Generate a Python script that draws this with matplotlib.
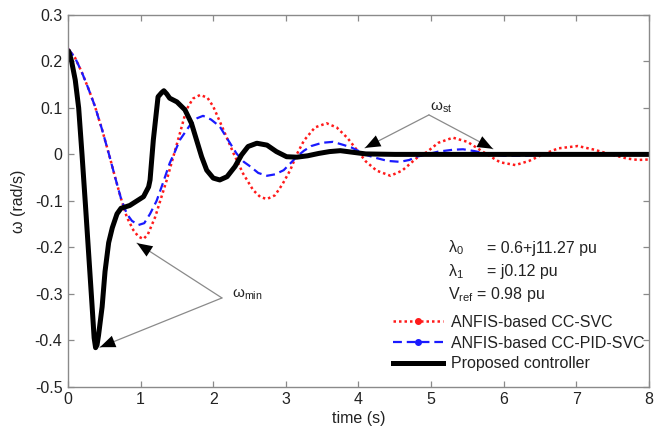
# omega response plot, three controllers

import matplotlib
matplotlib.use("Agg")
import matplotlib.pyplot as plt
from matplotlib.lines import Line2D

plt.rcParams['font.family'] = ['Liberation Sans', 'DejaVu Sans']
plt.rcParams['mathtext.fontset'] = 'custom'
plt.rcParams['mathtext.rm'] = 'Liberation Sans'
plt.rcParams['mathtext.it'] = 'Liberation Sans'
plt.rcParams['mathtext.default'] = 'regular'

# DATA

t_svc = [0.0, 0.01, 0.1, 0.19, 0.28, 0.37, 0.47, 0.57, 0.65, 0.73, 0.81, 0.9,
         0.97, 1.04, 1.1, 1.2, 1.3, 1.36, 1.45, 1.54, 1.63, 1.72, 1.82, 1.92,
         2.0, 2.14, 2.28, 2.41, 2.55, 2.65, 2.74, 2.85, 2.95, 3.06, 3.15,
         3.25, 3.4, 3.56, 3.7, 3.85, 3.98, 4.1, 4.25, 4.44, 4.6, 4.8, 4.94,
         5.1, 5.3, 5.5, 5.65, 5.77, 5.95, 6.16, 6.35, 6.54, 6.75, 7.02, 7.25,
         7.47, 7.7, 7.85, 8.0]
w_svc = [0.224, 0.226, 0.207, 0.177, 0.142, 0.104, 0.053, -0.003, -0.05,
         -0.095, -0.135, -0.163, -0.177, -0.182, -0.172, -0.135, -0.085,
         -0.055, -0.005, 0.045, 0.096, 0.12, 0.128, 0.122, 0.103, 0.053, 0.002,
         -0.041, -0.077, -0.092, -0.096, -0.088, -0.065, -0.034, 0.0, 0.03,
         0.058, 0.067, 0.058, 0.035, 0.009, -0.015, -0.035, -0.046, -0.035,
         -0.008, 0.005, 0.025, 0.036, 0.027, 0.012, 0.0, -0.017, -0.023,
         -0.014, 0.0, 0.013, 0.018, 0.01, 0.0, -0.009, -0.012, -0.011]

t_pid = [0.0, 0.01, 0.1, 0.19, 0.28, 0.37, 0.47, 0.57, 0.65, 0.73, 0.81, 0.88,
         0.97, 1.05, 1.13, 1.22, 1.3, 1.4, 1.47, 1.54, 1.68, 1.78, 1.86, 1.97,
         2.09, 2.2, 2.32, 2.42, 2.51, 2.62, 2.74, 2.85, 2.97, 3.07, 3.15,
         3.25, 3.35, 3.5, 3.65, 3.8, 3.9, 4.02, 4.12, 4.25, 4.4, 4.57, 4.7,
         4.8, 4.94, 5.1, 5.3, 5.44, 5.6, 5.8, 6.0, 6.3, 6.6, 7.0, 8.0]
w_pid = [0.224, 0.226, 0.207, 0.177, 0.142, 0.104, 0.053, -0.003, -0.05,
         -0.095, -0.128, -0.143, -0.152, -0.148, -0.128, -0.1, -0.065, -0.019,
         0.005, 0.031, 0.063, 0.078, 0.083, 0.075, 0.06, 0.032, 0.002, -0.016,
         -0.026, -0.04, -0.046, -0.043, -0.034, -0.018, -0.005, 0.008, 0.018,
         0.025, 0.027, 0.02, 0.015, 0.006, -0.002, -0.008, -0.014, -0.016,
         -0.012, -0.005, 0.0, 0.006, 0.01, 0.011, 0.007, 0.0, -0.003, -0.003,
         0.0, 0.001, 0.0]

t_prop = [0.0, 0.01, 0.05, 0.1, 0.147, 0.193, 0.24, 0.285, 0.33, 0.36, 0.38,
          0.4, 0.42, 0.47, 0.51, 0.56, 0.61, 0.675, 0.73, 0.85, 0.95, 1.04,
          1.11, 1.13, 1.175, 1.24, 1.29, 1.32, 1.36, 1.4, 1.5, 1.61, 1.7, 1.77,
          1.84, 1.91, 2.0, 2.09, 2.19, 2.3, 2.39, 2.48, 2.6, 2.74, 2.87, 3.01,
          3.15, 3.3, 3.45, 3.6, 3.75, 3.9, 4.1, 4.5, 5.0, 6.0, 7.0, 8.0]
w_prop = [0.215, 0.222, 0.2, 0.16, 0.1, 0.0, -0.108, -0.215, -0.322,
          -0.395, -0.416, -0.41, -0.39, -0.328, -0.252, -0.19, -0.158, -0.128,
          -0.116, -0.11, -0.1, -0.091, -0.07, -0.055, 0.031, 0.124, 0.133,
          0.137, 0.13, 0.121, 0.113, 0.096, 0.067, 0.031, -0.005, -0.034,
          -0.051, -0.055, -0.048, -0.026, -0.001, 0.017, 0.024, 0.02, 0.006,
          -0.005, -0.006, -0.003, 0.002, 0.006, 0.008, 0.005, 0.001, 0.0, 0.0,
          0.0, 0.0, 0.0]

labels = ['ANFIS-based CC-SVC', 'ANFIS-based CC-PID-SVC', 'Proposed controller']
x_ticks = [0, 1, 2, 3, 4, 5, 6, 7, 8]
y_ticks = [-0.5, -0.4, -0.3, -0.2, -0.1, 0, 0.1, 0.2, 0.3]

# FIGURE

fig = plt.figure(figsize=(6.64, 4.30), dpi=100)
ax = fig.add_axes([0.1024, 0.1007, 0.875, 0.8644])

ax.plot(t_svc, w_svc, color='#ff1a1a', ls=(0, (1, 1.2)), lw=1.8)
ax.plot(t_pid, w_pid, color='#1a1aff', ls=(0, (4, 2.2)), lw=1.6)
ax.plot(t_prop, w_prop, color='black', lw=3.6, solid_joinstyle='round')

ax.set_xlim(0, 8)
ax.set_ylim(-0.5, 0.3)
ax.set_xticks(x_ticks)
ax.set_yticks(y_ticks)
ax.set_yticklabels(['-0.5', '-0.4', '-0.3', '-0.2', '-0.1', '0', '0.1', '0.2', '0.3'])

for s in ax.spines.values():
    s.set_color('#8a8a8a')
    s.set_linewidth(1.0)
ax.tick_params(direction='in', length=4, width=0.9, color='#8a8a8a',
               top=True, right=True, labelsize=11.5, labelcolor='#222222', pad=4)

ax.set_xlabel('time (s)', fontsize=11.5, color='#222222', labelpad=3)
ax.set_ylabel('ω (rad/s)', fontsize=11.5, color='#222222', labelpad=6)

# parameter text block
txt = dict(fontsize=11.5, color='#222222', va='center')
ax.text(5.23, -0.2015, r'$\lambda_0$', **txt)
ax.text(5.77, -0.2015, '= 0.6+j11.27 pu', **txt)
ax.text(5.23, -0.253, r'$\lambda_1$', **txt)
ax.text(5.77, -0.253, '= j0.12 pu', **txt)
ax.text(5.23, -0.3026, r'V$_{ref}$ = 0.98 pu', **txt)

# arrows: grey shaft, black head
shaft = dict(arrowstyle='-', color='#8a8a8a', lw=0.9, shrinkA=0, shrinkB=0)
head = dict(arrowstyle='-|>,head_length=0.55,head_width=0.22', mutation_scale=20,
            fc='black', ec='none', lw=0, shrinkA=0, shrinkB=0)

def pointer(start, targets):
    for tgt in targets:
        ax.annotate('', xy=tgt, xytext=start, arrowprops=shaft)
        ax.annotate('', xy=tgt, xytext=start, arrowprops=head)

pointer((2.12, -0.309), [(0.95, -0.191), (0.44, -0.415)])
ax.text(2.26, -0.303, r'ω$_{min}$', fontsize=11, color='#222222', va='center')

pointer((4.97, 0.085), [(4.09, 0.014), (5.85, 0.012)])
ax.text(4.98, 0.1, r'ω$_{st}$', fontsize=11, color='#222222', va='center')

# legend
handles = [
    Line2D([], [], color='#ff1a1a', ls=(0, (1, 1.2)), lw=1.8, marker='.', markersize=8),
    Line2D([], [], color='#1a1aff', ls=(0, (4, 2.2)), lw=1.6, marker='.', markersize=8),
    Line2D([], [], color='black', lw=3.6),
]
ax.legend(handles, labels, loc='center left', bbox_to_anchor=(0.592, 0.2023),
          bbox_transform=fig.transFigure, frameon=False, fontsize=11.5,
          handlelength=3.1, handletextpad=0.5, labelspacing=0.35,
          borderpad=0, borderaxespad=0, numpoints=1)
for txt_obj in ax.get_legend().get_texts():
    txt_obj.set_color('#222222')

fig.savefig('out.png', dpi=100)
